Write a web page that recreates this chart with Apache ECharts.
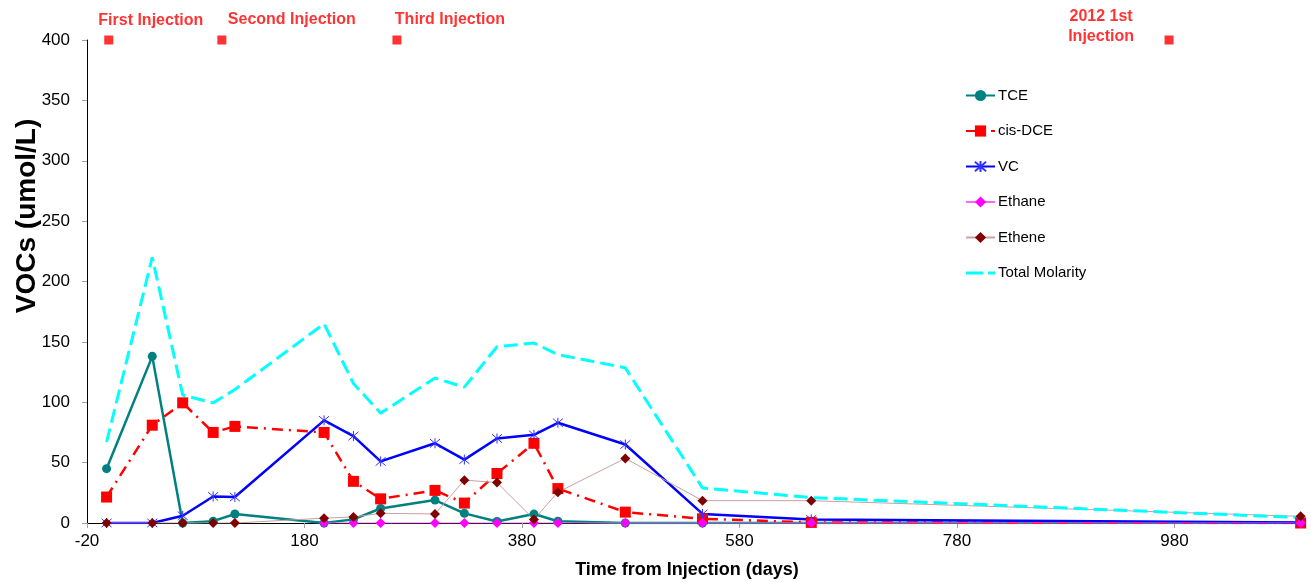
<!DOCTYPE html>
<html>
<head>
<meta charset="utf-8">
<script src="https://cdn.jsdelivr.net/npm/echarts@6/dist/echarts.min.js"></script>
<style>
html,body{margin:0;padding:0;background:#fff;}
#chart{width:1311px;height:582px;}
</style>
</head>
<body>
<div id="chart"></div>
<script>
// ---- data ----
var days = [-2, 40, 68, 96, 116, 198, 225, 250, 300, 327, 357, 391, 413, 475, 546, 646, 1096];
var tce = [45, 138, 0, 1.5, 7.5, 0, 3, 12, 19, 8, 1.3, 7.4, 1.5, 0, 0, 0, 0];
var cisDCE = [21.5, 81, 99.5, 75, 80, 75, 34.5, 20, 27, 16.5, 41, 66, 28.5, 9, 3.5, 0.5, 0];
var vc = [0, 0, 6, 22, 21.5, 85, 72, 51, 66, 52.5, 70, 73, 83, 65, 7.5, 3, 0.5];
var ethane = [null, null, null, null, null, 0, 0, 0, 0, 0, 0, 0, 0, 0, 0, 0, 0];
var ethene = [0, 0, 0, 0, 0, 4, 5, 8, 7.5, 35.5, 33.5, 3, 25.5, 53.5, 18.5, 18.5, 5.5];
var totalMolarity = [67, 220, 106, 99.5, 110.5, 165, 115.5, 91, 120, 112.5, 146, 149, 139.5, 128.5, 29, 21, 4.5];

var injDays = [0, 104, 265, 975];
var injLevel = 400;
var injLabels = ['First Injection', 'Second Injection', 'Third Injection', '2012 1st\nInjection'];

var seriesNames = ['TCE', 'cis-DCE', 'VC', 'Ethane', 'Ethene', 'Total Molarity'];

var xTicks = { min: -20, max: 1100, interval: 200 };
var yTicks = { min: 0, max: 400, interval: 50 };

// ---- build ----
function pairs(ys) {
  return days.map(function (d, i) { return [d, ys[i]]; }).filter(function (p) { return p[1] !== null; });
}
var FONT = '"Liberation Sans", Arial, sans-serif';
var labelOffsets = [[42, -19], [70, -20], [53, -20], [-68, -13]];
var asterisk = 'path://M0,0L10,10M10,0L0,10M5,-1L5,11';
// dashed legend icon for Total Molarity (tiny corner marks fix the bounding box)
var dashedIcon = 'path://M0,0h0.01v0.01h-0.01z M28.99,13.99h0.01v0.01h-0.01z M0,5.5h17v3h-17z M22,5.5h7v3h-7z';

var chart = echarts.init(document.getElementById('chart'), null, { renderer: 'canvas' });
chart.setOption({
  animation: false,
  textStyle: { fontFamily: FONT },
  grid: { left: 87, right: 6, top: 40, bottom: 59, containLabel: false },
  legend: {
    orient: 'vertical', left: 965, top: 88, padding: 0,
    itemWidth: 29, itemHeight: 14, itemGap: 20.5,
    textStyle: { fontSize: 15, color: '#000', fontFamily: FONT, padding: [0, 0, 0, -2] },
    data: seriesNames.map(function (n) {
      return n === 'Total Molarity' ? { name: n, icon: dashedIcon, itemStyle: { color: '#00ffff' } } : { name: n };
    })
  },
  xAxis: {
    type: 'value', min: xTicks.min, max: xTicks.max, interval: xTicks.interval,
    splitLine: { show: false },
    axisLine: { show: true, onZero: false, lineStyle: { color: '#000', width: 1 } },
    axisTick: { show: true, length: 5, lineStyle: { color: '#a0a0a0' } },
    axisLabel: { fontSize: 17, color: '#000', margin: 10, showMaxLabel: false, fontFamily: FONT }
  },
  yAxis: {
    type: 'value', min: yTicks.min, max: yTicks.max, interval: yTicks.interval,
    splitLine: { show: false },
    axisLine: { show: true, onZero: false, lineStyle: { color: '#000', width: 1 } },
    axisTick: { show: true, length: 5, lineStyle: { color: '#a0a0a0' } },
    axisLabel: { fontSize: 17, color: '#000', margin: 17, fontFamily: FONT }
  },
  graphic: [
    { type: 'text', x: 687, y: 570, style: { text: 'Time from Injection (days)', font: 'bold 18px ' + FONT, fill: '#000', textAlign: 'center', textVerticalAlign: 'middle' } },
    { type: 'text', x: 27, y: 216, rotation: Math.PI / 2, style: { text: 'VOCs (umol/L)', font: 'bold 28px ' + FONT, fill: '#000', textAlign: 'center', textVerticalAlign: 'middle' } }
  ],
  series: [
    { name: 'TCE', type: 'line', data: pairs(tce), symbol: 'circle', symbolSize: 9,
      lineStyle: { color: '#008080', width: 2.5 }, itemStyle: { color: '#008080' } },
    { name: 'cis-DCE', type: 'line', data: pairs(cisDCE), symbol: 'rect', symbolSize: 11,
      lineStyle: { color: '#ff0000', width: 2.5, type: [11, 6, 2, 6] }, itemStyle: { color: '#ff0000' } },
    { name: 'VC', type: 'line', data: pairs(vc), symbol: asterisk, symbolSize: 10,
      lineStyle: { color: '#0000ff', width: 2.5 }, itemStyle: { color: '#0000ff', borderColor: '#3333ff', borderWidth: 1 } },
    { name: 'Ethane', type: 'line', data: pairs(ethane), symbol: 'diamond', symbolSize: 10,
      lineStyle: { color: '#ff66ff', width: 1 }, itemStyle: { color: '#ff00ff' } },
    { name: 'Ethene', type: 'line', data: pairs(ethene), symbol: 'diamond', symbolSize: 10,
      lineStyle: { color: '#c8a0a0', width: 1 }, itemStyle: { color: '#800000' } },
    { name: 'Total Molarity', type: 'line', data: pairs(totalMolarity), symbol: 'none',
      lineStyle: { color: '#00ffff', width: 3, type: [14, 6] }, itemStyle: { color: '#00ffff' } },
    { name: 'Injections', type: 'scatter', clip: false, symbol: 'rect', symbolSize: 9,
      itemStyle: { color: '#ff0000' }, z: 5,
      data: injDays.map(function (d, i) {
        return { value: [d, injLevel], label: { show: true, formatter: injLabels[i], position: 'inside', offset: labelOffsets[i] } };
      }),
      label: { color: '#ff0000', fontWeight: 'bold', fontSize: 16, fontFamily: FONT, lineHeight: 20, align: 'center', verticalAlign: 'middle' }
    }
  ]
});
</script>
</body>
</html>
